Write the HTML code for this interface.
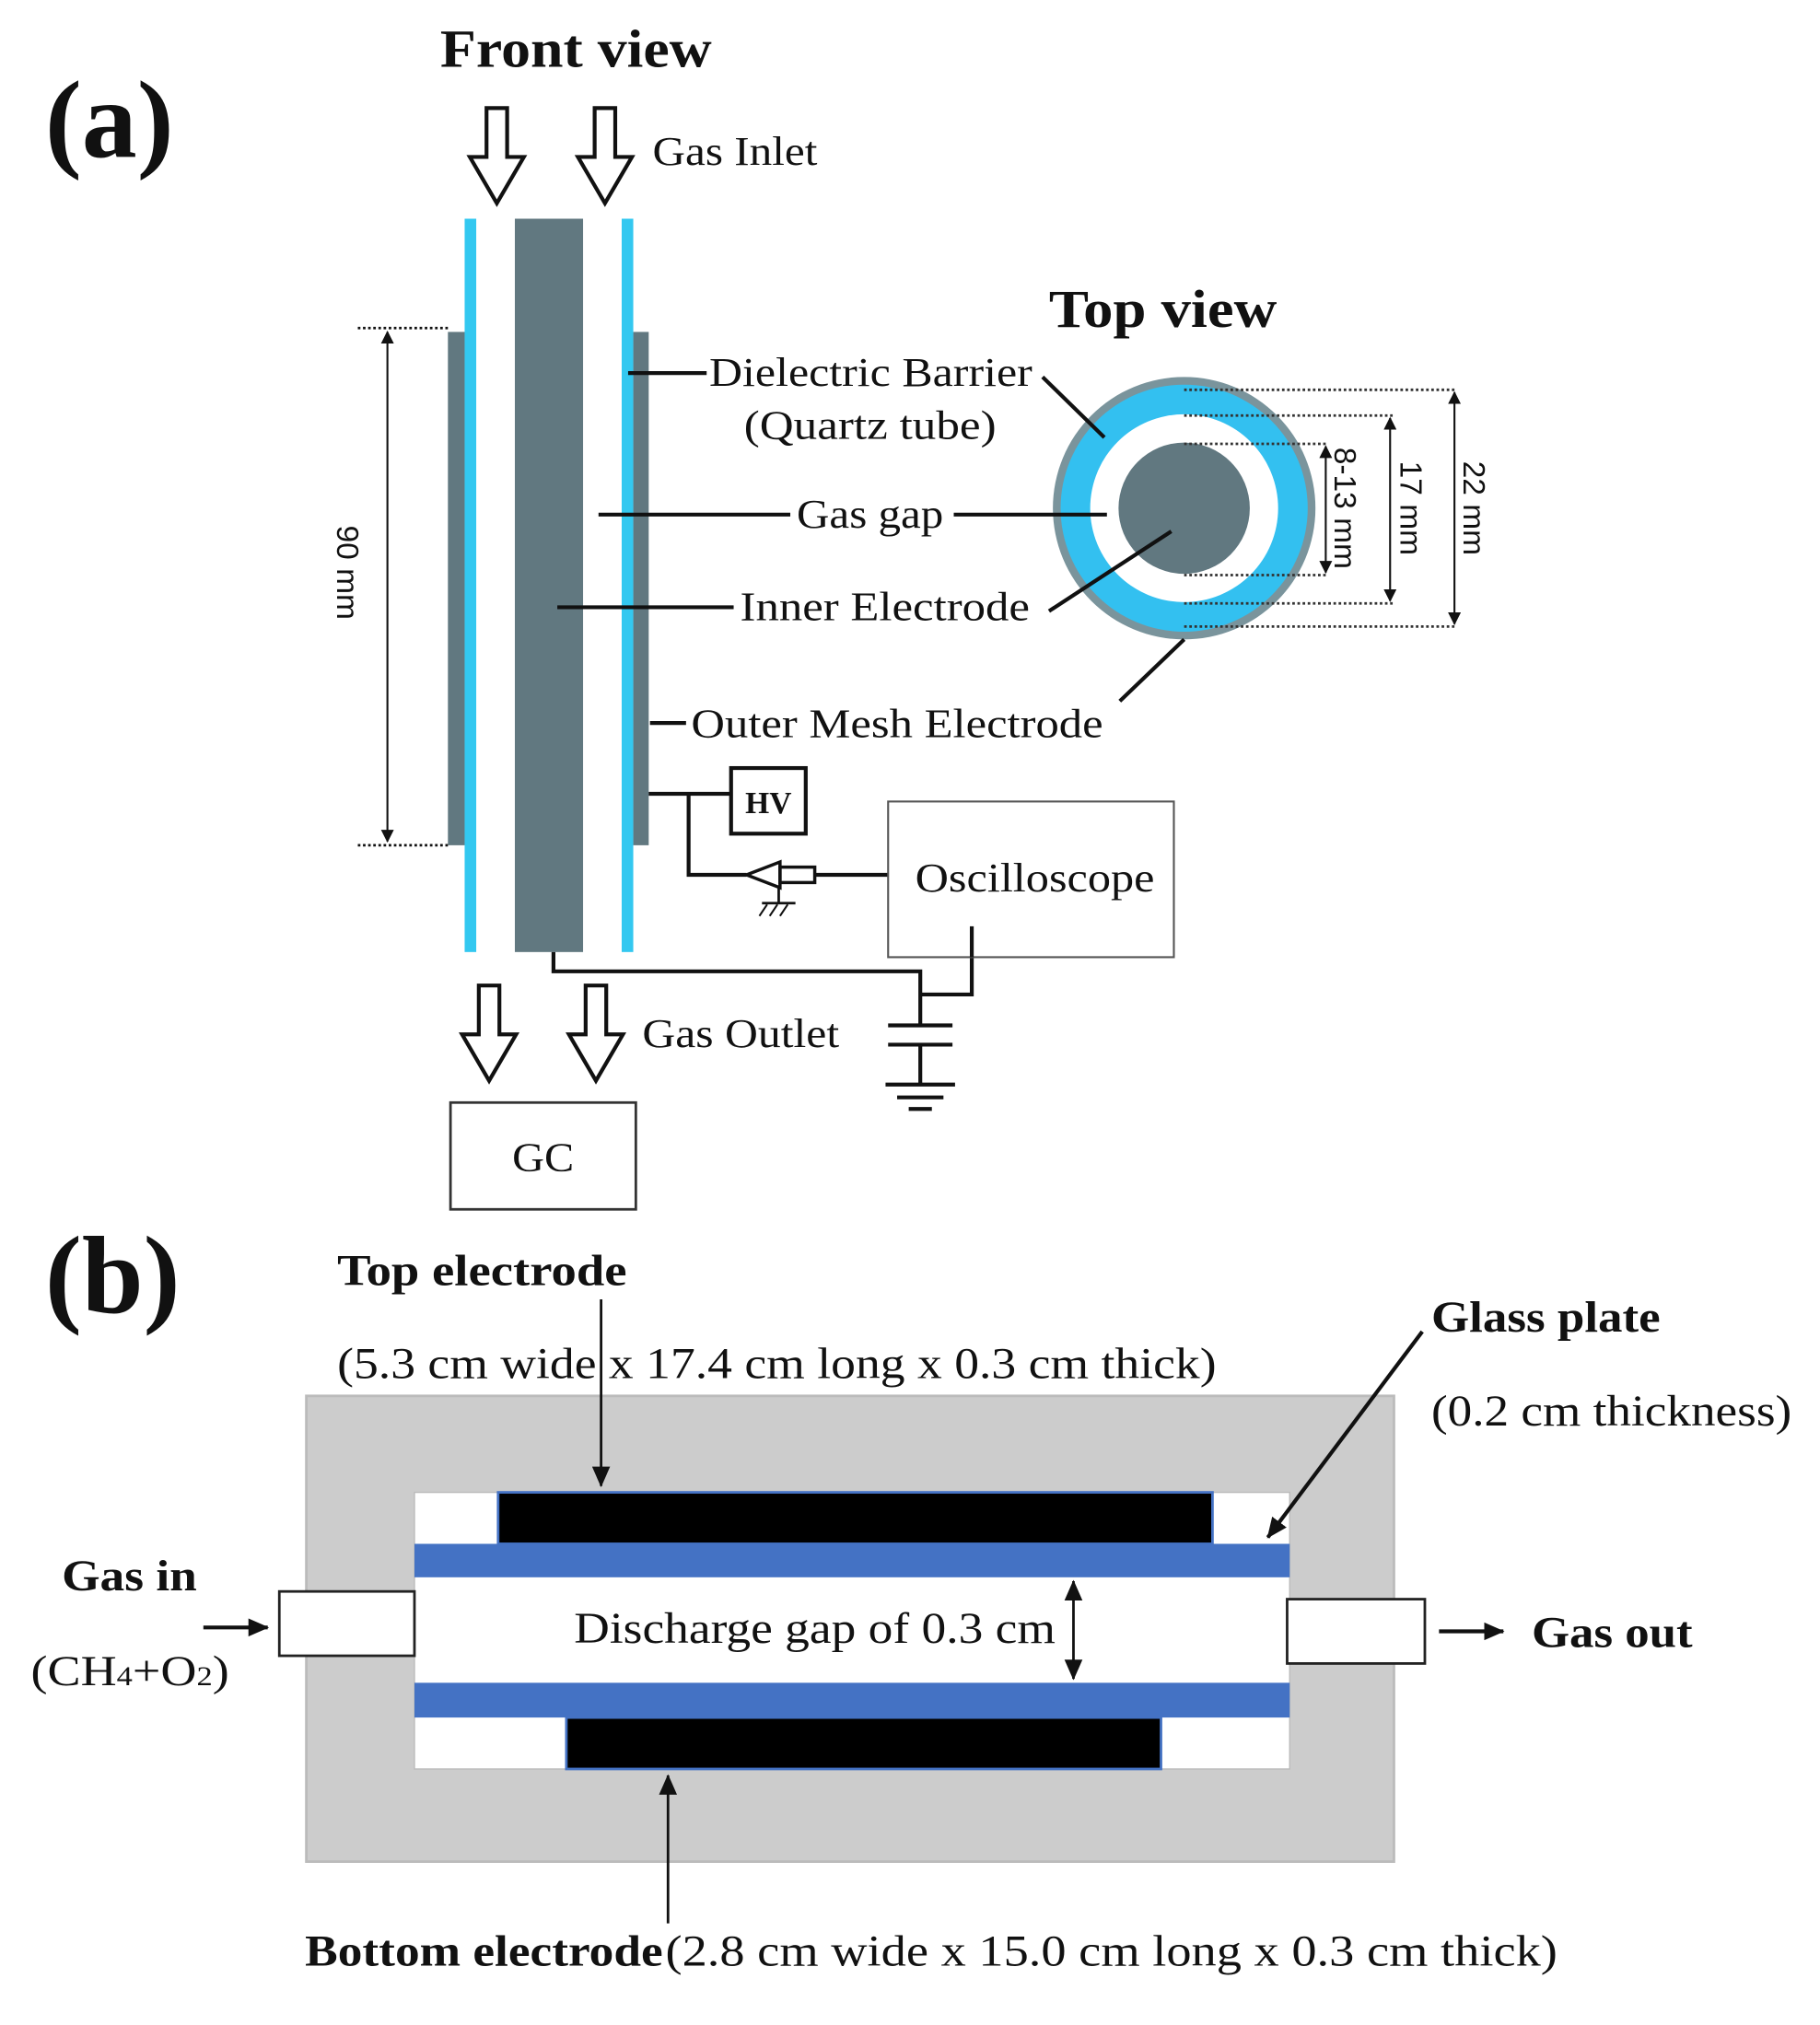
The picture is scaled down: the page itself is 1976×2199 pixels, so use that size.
<!DOCTYPE html>
<html><head><meta charset="utf-8"><style>
html,body{margin:0;padding:0;background:#fff}
svg{display:block}
text{font-family:"Liberation Serif",serif;fill:#111}
.b{font-weight:bold}
</style></head><body>
<svg width="1976" height="2199" viewBox="0 0 1414 1574" preserveAspectRatio="none" xmlns="http://www.w3.org/2000/svg">
<defs>
<marker id="ah" markerWidth="10" markerHeight="10" refX="9" refY="5" orient="auto-start-reverse" markerUnits="userSpaceOnUse"><path d="M0,0 L10,5 L0,10 Z" fill="#111"/></marker>
<marker id="ah2" markerWidth="16" markerHeight="14" refX="15" refY="7" orient="auto-start-reverse" markerUnits="userSpaceOnUse"><path d="M0,0 L16,7 L0,14 Z" fill="#111"/></marker>
</defs>
<rect width="1414" height="1574" fill="#fff"/>
<!-- (a) -->
<text x="35" y="122" font-size="86" class="b" textLength="100" lengthAdjust="spacingAndGlyphs">(a)</text>
<text x="342" y="52" font-size="42" class="b" textLength="211" lengthAdjust="spacingAndGlyphs">Front view</text>
<text x="507" y="128" font-size="32" textLength="128" lengthAdjust="spacingAndGlyphs">Gas Inlet</text>
<!-- hollow arrows -->
<g fill="#fff" stroke="#111" stroke-width="3">
<path d="M378,84 H394 V122 H407 L386,158 L365,122 H378 Z"/>
<path d="M462,84 H478 V122 H491 L470,158 L449,122 H462 Z"/>
<path d="M372,766 H388 V804 H401 L380,840 L359,804 H372 Z"/>
<path d="M455,766 H471 V804 H484 L463,840 L442,804 H455 Z"/>
</g>
<!-- tubes -->
<rect x="348" y="258" width="13" height="399" fill="#617880"/>
<rect x="492" y="258" width="12" height="399" fill="#617880"/>
<rect x="361" y="170" width="9" height="570" fill="#33c8f0"/>
<rect x="483" y="170" width="9" height="570" fill="#33c8f0"/>
<rect x="400" y="170" width="53" height="570" fill="#617880"/>
<!-- 90 mm -->
<g stroke="#111" stroke-width="2" stroke-dasharray="2,2"><line x1="278" y1="255" x2="348" y2="255"/><line x1="278" y1="657" x2="348" y2="657"/></g>
<line x1="301" y1="258" x2="301" y2="654" stroke="#111" stroke-width="1.5" marker-start="url(#ah)" marker-end="url(#ah)"/>
<text transform="translate(262,445) rotate(90)" font-size="24" text-anchor="middle" style="font-family:'Liberation Sans',sans-serif">90 mm</text>
<!-- top view -->
<text x="815" y="254" font-size="42" class="b" textLength="177" lengthAdjust="spacingAndGlyphs">Top view</text>
<circle cx="920" cy="395" r="102" fill="#7a949c"/>
<circle cx="920" cy="395" r="96" fill="#33c0f0"/>
<circle cx="920" cy="395" r="73" fill="#fff"/>
<circle cx="920" cy="395" r="51" fill="#617880"/>
<g stroke="#333" stroke-width="2" stroke-dasharray="2,2">
<line x1="920" y1="303" x2="1132" y2="303"/><line x1="920" y1="323" x2="1082" y2="323"/><line x1="920" y1="345" x2="1030" y2="345"/>
<line x1="920" y1="447" x2="1030" y2="447"/><line x1="920" y1="469" x2="1082" y2="469"/><line x1="920" y1="487" x2="1132" y2="487"/>
</g>
<g stroke="#111" stroke-width="1.5">
<line x1="1030" y1="347" x2="1030" y2="445" marker-start="url(#ah)" marker-end="url(#ah)"/>
<line x1="1080" y1="325" x2="1080" y2="467" marker-start="url(#ah)" marker-end="url(#ah)"/>
<line x1="1130" y1="305" x2="1130" y2="485" marker-start="url(#ah)" marker-end="url(#ah)"/>
</g>
<text transform="translate(1037,395) rotate(90)" font-size="24" text-anchor="middle" style="font-family:'Liberation Sans',sans-serif">8-13 mm</text>
<text transform="translate(1088,395) rotate(90)" font-size="24" text-anchor="middle" style="font-family:'Liberation Sans',sans-serif">17 mm</text>
<text transform="translate(1137,395) rotate(90)" font-size="24" text-anchor="middle" style="font-family:'Liberation Sans',sans-serif">22 mm</text>
<!-- labels -->
<g font-size="32">
<text x="551" y="300" textLength="251" lengthAdjust="spacingAndGlyphs">Dielectric Barrier</text>
<text x="578" y="341" textLength="196" lengthAdjust="spacingAndGlyphs">(Quartz tube)</text>
<text x="619" y="410" textLength="114" lengthAdjust="spacingAndGlyphs">Gas gap</text>
<text x="575" y="482" textLength="225" lengthAdjust="spacingAndGlyphs">Inner Electrode</text>
<text x="537" y="573" textLength="320" lengthAdjust="spacingAndGlyphs">Outer Mesh Electrode</text>
</g>
<g stroke="#111" stroke-width="3" fill="none">
<line x1="488" y1="290" x2="549" y2="290"/><line x1="810" y1="293" x2="858" y2="340"/>
<line x1="465" y1="400" x2="614" y2="400"/><line x1="741" y1="400" x2="860" y2="400"/>
<line x1="433" y1="472" x2="570" y2="472"/><line x1="815" y1="475" x2="910" y2="413"/>
<line x1="505" y1="562" x2="533" y2="562"/><line x1="870" y1="545" x2="920" y2="497"/>
<polyline points="504,617 568,617"/>
<polyline points="535,617 535,680 580,680"/>
<path d="M580,680 L606,670 L606,690 Z" stroke-width="2.5"/>
<rect x="606" y="674" width="27" height="12" stroke-width="2.5"/>
<line x1="633" y1="680" x2="700" y2="680"/>
<line x1="605" y1="690" x2="605" y2="702" stroke-width="2"/>
<line x1="592" y1="702" x2="618" y2="702" stroke-width="2"/>
<line x1="596" y1="703" x2="590" y2="712" stroke-width="1.5"/><line x1="604" y1="703" x2="598" y2="712" stroke-width="1.5"/><line x1="612" y1="703" x2="606" y2="712" stroke-width="1.5"/>
<polyline points="755,720 755,773 715,773"/>
<polyline points="430,740 430,755 715,755 715,797"/>
<line x1="690" y1="797" x2="740" y2="797"/><line x1="690" y1="812" x2="740" y2="812"/>
<polyline points="715,812 715,843"/>
<line x1="688" y1="843" x2="742" y2="843"/><line x1="697" y1="853" x2="733" y2="853"/><line x1="706" y1="862" x2="724" y2="862"/>
</g>
<rect x="568" y="597" width="58" height="51" fill="#fff" stroke="#111" stroke-width="3"/>
<text x="597" y="632" font-size="24" class="b" text-anchor="middle">HV</text>
<rect x="690" y="623" width="222" height="121" fill="#fff" stroke="#555" stroke-width="1.5"/>
<text x="711" y="693" font-size="32" textLength="186" lengthAdjust="spacingAndGlyphs">Oscilloscope</text>
<line x1="755" y1="720" x2="755" y2="744" stroke="#111" stroke-width="3"/>
<text x="499" y="814" font-size="32" textLength="153" lengthAdjust="spacingAndGlyphs">Gas Outlet</text>
<rect x="350" y="857" width="144" height="83" fill="#fff" stroke="#333" stroke-width="2"/>
<text x="398" y="910" font-size="32" textLength="48" lengthAdjust="spacingAndGlyphs">GC</text>
<!-- (b) -->
<text x="35" y="1020" font-size="86" class="b" textLength="105" lengthAdjust="spacingAndGlyphs">(b)</text>
<text x="262" y="999" font-size="34" class="b" textLength="225" lengthAdjust="spacingAndGlyphs">Top electrode</text>
<text x="262" y="1071" font-size="34" textLength="683" lengthAdjust="spacingAndGlyphs">(5.3 cm wide x 17.4 cm long x 0.3 cm thick)</text>
<rect x="238" y="1085" width="845" height="362" fill="#cccccc" stroke="#bbb" stroke-width="2"/>
<rect x="322" y="1160" width="680" height="215" fill="#fff" stroke="#bbb" stroke-width="1"/>
<rect x="387" y="1160" width="555" height="40" fill="#000" stroke="#4472c4" stroke-width="2"/>
<rect x="322" y="1200" width="680" height="26" fill="#4472c4"/>
<rect x="322" y="1308" width="680" height="27" fill="#4472c4"/>
<rect x="440" y="1335" width="462" height="40" fill="#000" stroke="#4472c4" stroke-width="2"/>
<rect x="217" y="1237" width="105" height="50" fill="#fff" stroke="#222" stroke-width="2"/>
<rect x="1000" y="1243" width="107" height="50" fill="#fff" stroke="#222" stroke-width="2"/>
<text x="446" y="1277" font-size="34" textLength="374" lengthAdjust="spacingAndGlyphs" fill="#333">Discharge gap of 0.3 cm</text>
<g stroke="#111" stroke-width="2" fill="none">
<line x1="467" y1="1010" x2="467" y2="1155" marker-end="url(#ah2)"/>
<line x1="834" y1="1229" x2="834" y2="1305" marker-start="url(#ah2)" marker-end="url(#ah2)"/>
<line x1="1105" y1="1035" x2="985" y2="1195" stroke-width="3" marker-end="url(#ah2)"/>
<line x1="158" y1="1265" x2="208" y2="1265" stroke-width="3" marker-end="url(#ah2)"/>
<line x1="1118" y1="1268" x2="1168" y2="1268" stroke-width="3" marker-end="url(#ah2)"/>
<line x1="519" y1="1495" x2="519" y2="1380" marker-end="url(#ah2)"/>
</g>
<text x="1112" y="1035" font-size="34" class="b" textLength="178" lengthAdjust="spacingAndGlyphs">Glass plate</text>
<text x="1112" y="1108" font-size="34" textLength="280" lengthAdjust="spacingAndGlyphs">(0.2 cm thickness)</text>
<text x="48" y="1236" font-size="34" class="b" textLength="105" lengthAdjust="spacingAndGlyphs">Gas in</text>
<text x="24" y="1310" font-size="33" textLength="154" lengthAdjust="spacingAndGlyphs">(CH<tspan font-size="21">4</tspan>+O<tspan font-size="21">2</tspan>)</text>
<text x="1190" y="1280" font-size="34" class="b" textLength="125" lengthAdjust="spacingAndGlyphs">Gas out</text>
<text x="237" y="1528" font-size="34" class="b" textLength="278" lengthAdjust="spacingAndGlyphs">Bottom electrode</text>
<text x="517" y="1528" font-size="34" textLength="693" lengthAdjust="spacingAndGlyphs">(2.8 cm wide x 15.0 cm long x 0.3 cm thick)</text>
</svg>
</body></html>
